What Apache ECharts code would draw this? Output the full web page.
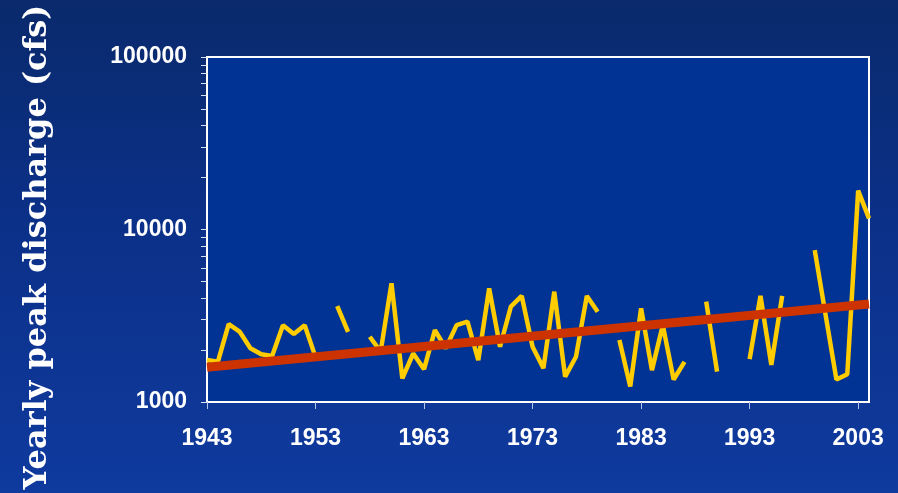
<!DOCTYPE html>
<html>
<head>
<meta charset="utf-8">
<script src="https://cdn.jsdelivr.net/npm/echarts@6/dist/echarts.min.js"></script>
<style>
  html, body { margin: 0; padding: 0; }
  body { background: linear-gradient(180deg, #0a2a6c 0%, #0b3088 45%, #0f3a9e 100%); }
  #main { width: 898px; height: 493px; }
</style>
</head>
<body>
<div id="main"></div>
<script>
// yearly peak discharge, cfs (null = no record)
var years = [];
for (var y = 1943; y <= 2004; y++) years.push(y);
var peaks = [
  1750, 1710, 2830, 2560, 2050, 1890, 1850, 2790, 2480, 2790,   // 1943-1952
  1820, null, 3600, 2550, null, 2390, 1960, 4880, 1370, 1910,   // 1953-1962
  1550, 2610, 2050, 2790, 2920, 1750, 4560, 2090, 3570, 4120,   // 1963-1972
  2090, 1570, 4360, 1400, 1830, 4120, 3340, null, 2290, 1230,   // 1973-1982
  3490, 1530, 2790, 1350, 1710, null, 3820, 1500, null, null,   // 1983-1992
  1770, 4120, 1640, 4120, null, null, 7600, 3200, 1350, 1450,   // 1993-2002
  16800, 11600                                                  // 2003-2004
];
// trend line ends
var trendYears = [1943, 2004];
var trendValues = [1590, 3700];

var xTicks = [1943, 1953, 1963, 1973, 1983, 1993, 2003];
var yLabels = [1000, 10000, 100000];
var yTicks = [];
[1000, 10000].forEach(function (d) {
  for (var k = 1; k < 10; k++) yTicks.push(d * k);
});
yTicks.push(100000);

var labelFont = {
  color: '#ffffff',
  fontFamily: 'Liberation Sans, Arial, sans-serif',
  fontWeight: 'bold',
  fontSize: 23,
  formatter: function (v) { return String(Math.round(v)); }
};

var chart = echarts.init(document.getElementById('main'));
chart.setOption({
  backgroundColor: 'transparent',
  animation: false,
  grid: {
    left: 207, right: 29, top: 57, bottom: 91,
    show: true,
    backgroundColor: '#003393',
    borderColor: '#ffffff',
    borderWidth: 2
  },
  xAxis: {
    type: 'value',
    min: 1943,
    max: 2004,
    interval: 10,
    axisLine: { show: true, lineStyle: { color: '#ffffff', width: 2 } },
    axisTick: {
      show: true, length: 7, customValues: xTicks,
      lineStyle: { color: '#b8c6ea', width: 1 }
    },
    axisLabel: Object.assign({ customValues: xTicks, margin: 25 }, labelFont),
    splitLine: { show: false }
  },
  yAxis: {
    type: 'log',
    logBase: 10,
    min: 1000,
    max: 100000,
    axisLine: { show: true, lineStyle: { color: '#ffffff', width: 2 } },
    axisTick: {
      show: true, length: 6, customValues: yTicks,
      lineStyle: { color: '#d8e0f4', width: 1 }
    },
    axisLabel: Object.assign({ customValues: yLabels, margin: 20 }, labelFont),
    splitLine: { show: false },
    minorTick: { show: false }
  },
  graphic: [{
    type: 'text',
    x: 38,
    y: 247,
    rotation: Math.PI / 2,
    style: {
      text: 'Yearly peak discharge (cfs)',
      fill: '#ffffff',
      font: 'bold 32px "DejaVu Serif", serif',
      align: 'center',
      verticalAlign: 'middle'
    }
  }],
  series: [
    {
      name: 'Peak',
      type: 'line',
      data: years.map(function (yr, i) { return [yr, peaks[i]]; }),
      connectNulls: false,
      showSymbol: false,
      symbol: 'none',
      lineStyle: { color: '#ffcc00', width: 4.5 },
      z: 2
    },
    {
      name: 'Trend',
      type: 'line',
      data: trendYears.map(function (yr, i) { return [yr, trendValues[i]]; }),
      showSymbol: false,
      symbol: 'none',
      lineStyle: { color: '#cc3300', width: 9 },
      z: 3
    }
  ]
});
</script>
</body>
</html>
